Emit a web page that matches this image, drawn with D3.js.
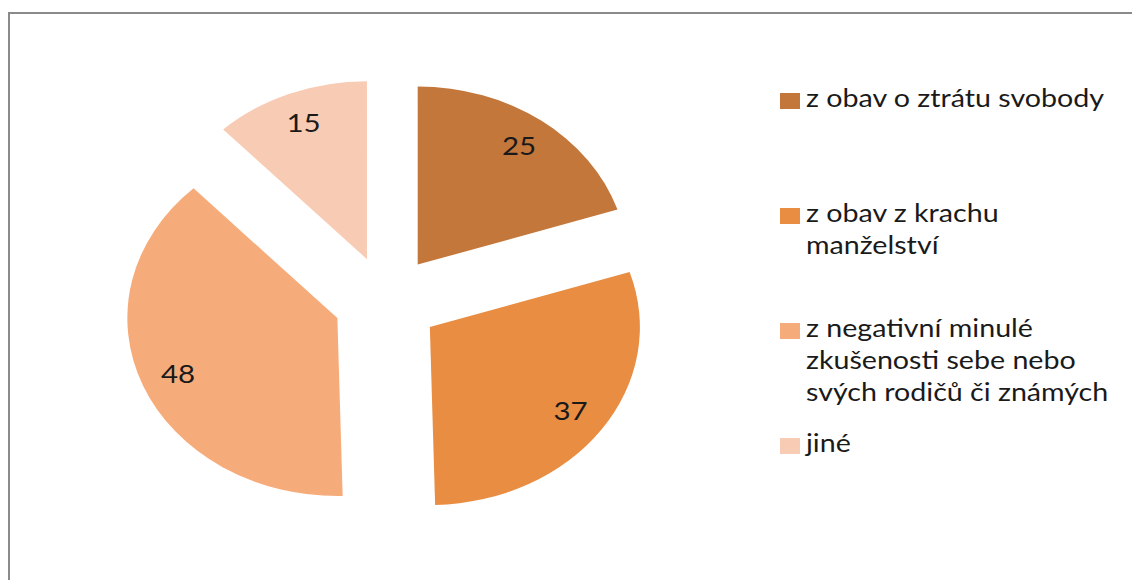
<!DOCTYPE html>
<html>
<head>
<meta charset="utf-8">
<script src="https://cdn.jsdelivr.net/npm/d3@7"></script>
<style>
  body { margin: 0; background: #fff; }
  text { font-family: Lato, "Open Sans", sans-serif; fill: #1a1a1a; }
</style>
</head>
<body>
<div id="chart"></div>
<script>
// Categories (legend lines) and values
var categories = [
    ["z obav o ztrátu svobody"],
    ["z obav z krachu", "manželství"],
    ["z negativní minulé", "zkušenosti sebe nebo", "svých rodičů či známých"],
    ["jiné"]
];
var values = [25, 37, 48, 15];
var colors = ["#C4773A", "#E88D42", "#F6AC7A", "#F8CBB4"];

var width = 1132, height = 580;
var cx = 386.5, cy = 301;     // pie centre
var stretch = 1.18;           // picture is widened horizontally
var radius = 178, explode = 45, labelR = 191;

var svg = d3.select("#chart")
    .append("svg")
    .attr("width", width)
    .attr("height", height);

// Chart border
svg.append("rect")
    .attr("x", 9)
    .attr("y", 13)
    .attr("width", width)
    .attr("height", height)
    .attr("fill", "none")
    .attr("stroke", "#8a8a8a")
    .attr("stroke-width", 2);

// Pie layout, clockwise from 12 o'clock, in data order
var pie = d3.pie().sort(null).value(function (d) { return d; });
var slices = pie(values);
var arc = d3.arc().innerRadius(0).outerRadius(radius);

var pieG = svg.append("g")
    .attr("transform", "translate(" + cx + "," + cy + ") scale(" + stretch + ",1)");

function mid(d) { return (d.startAngle + d.endAngle) / 2; }

pieG.selectAll("path")
    .data(slices)
    .enter()
    .append("path")
    .attr("d", arc)
    .attr("fill", function (d, i) { return colors[i]; })
    .attr("transform", function (d) {
        var a = mid(d);
        return "translate(" + (explode * Math.sin(a)) + "," + (-explode * Math.cos(a)) + ")";
    });

// Data labels
svg.selectAll(".lbl")
    .data(slices)
    .enter()
    .append("text")
    .attr("class", "lbl")
    .attr("text-anchor", "middle")
    .attr("font-size", 25)
    .attr("transform", function (d) {
        var a = mid(d);
        var x = cx + stretch * labelR * Math.sin(a);
        var y = cy - labelR * Math.cos(a) + 9;
        return "translate(" + x + "," + y + ") scale(" + stretch + ",1)";
    })
    .text(function (d) { return d.value; });

// Legend
var legend = svg.selectAll(".leg")
    .data(categories)
    .enter()
    .append("g")
    .attr("class", "leg")
    .attr("transform", function (d, i) { return "translate(780," + (107 + 115 * i) + ")"; });

legend.append("rect")
    .attr("x", 0)
    .attr("y", -14)
    .attr("width", 20)
    .attr("height", 16)
    .attr("fill", function (d, i) { return colors[i]; });

legend.append("text")
    .attr("font-size", 25)
    .attr("transform", "translate(26,0) scale(1.145,1)")
    .selectAll("tspan")
    .data(function (d) { return d; })
    .enter()
    .append("tspan")
    .attr("x", 0)
    .attr("y", function (d, j) { return j * 32; })
    .text(function (d) { return d; });
</script>
</body>
</html>
